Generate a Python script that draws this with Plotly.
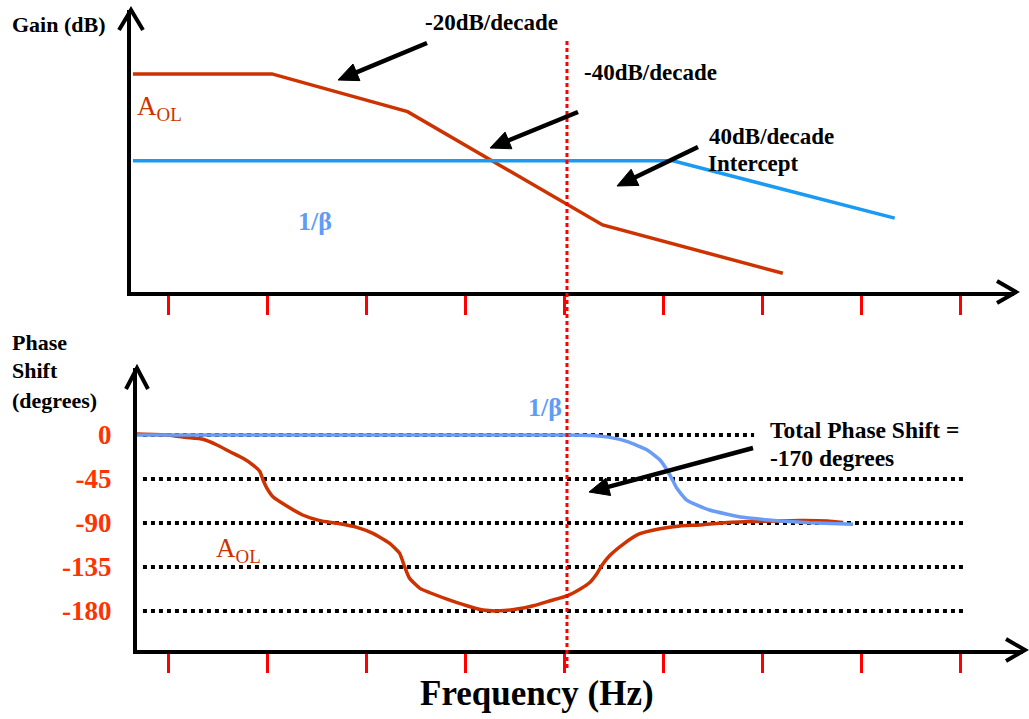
import math
import plotly.graph_objects as go

# ---------------- data ----------------
decades = [1, 2, 3, 4, 5, 6, 7, 8, 9]

gain_aol_x = [0.646, 2.05, 3.42, 5.39, 7.21]
gain_aol_db = [76.8, 76.8, 63.5, 23.6, 6.6]

gain_beta_x = [0.646, 6.10, 8.34]
gain_beta_db = [46.2, 46.2, 26.0]

phase_aol_x = [0.687, 1.0, 1.172, 1.354, 1.495, 1.626, 1.758, 1.859, 1.929, 1.96, 2.0, 2.06,
               2.2, 2.36, 2.535, 2.707, 2.909, 3.07, 3.24, 3.34, 3.39, 3.44, 3.545, 3.646,
               3.818, 4.02, 4.18, 4.35, 4.525, 4.69, 4.86, 5.03, 5.16, 5.26, 5.33, 5.38,
               5.46, 5.6, 5.76, 5.97, 6.17, 6.37, 6.65, 7.38, 7.66, 7.82]
phase_aol_deg = [1, 0, -2.4, -4.4, -10.2, -17.1, -23.8, -30.7, -37.5, -46, -54.5, -63.1,
                 -72.6, -81.8, -87.6, -90.3, -94.4, -100.6, -110.8, -121, -134.7, -146.6, -156.8, -161.3,
                 -167.8, -174.6, -179, -179.8, -178, -174.6, -169.5, -164.4, -157.6, -150.8, -142.2, -133.7,
                 -123.5, -111.5, -101.2, -95.9, -93, -92, -89.5, -87.5, -88, -89.5]

phase_beta_x = [0.687, 5.03, 5.29, 5.45, 5.64, 5.84, 5.97, 6.07, 6.14, 6.24, 6.47,
                6.81, 7.15, 7.48, 7.92]
phase_beta_deg = [0, 0, -0.5, -2.2, -6.8, -15.3, -25.6, -40.9, -54.5, -66.5, -76.7,
                  -84.2, -87.6, -89.7, -91.3]

phase_ticks = [0, -45, -90, -135, -180]
phase_tick_text = ["0", "-45", "-90", "-135", "-180"]
crossover_x = 5.03
ref_line_start = 0.747
ref_line_end = 9.07
zero_line_end = 6.92

# ---------------- styling helpers ----------------
W, H = 1029, 719
RED = "#CC3300"
BLUE_GAIN = "#1A9AF2"
BLUE_PHASE = "#6A9BF5"
BLUE_TXT = "#5E9CF7"
ORANGE = "#FF3300"
SERIF = "Liberation Serif"


def X(px):
    return px / W


def Y(py):
    return 1 - py / H


def dec(px):
    return (px - 168) / 99 + 1


fig = go.Figure()

# Gain panel
fig.add_trace(go.Scatter(x=gain_aol_x, y=gain_aol_db, mode="lines",
                         line=dict(color=RED, width=3.5), xaxis="x", yaxis="y", showlegend=False))
fig.add_trace(go.Scatter(x=gain_beta_x, y=gain_beta_db, mode="lines",
                         line=dict(color=BLUE_GAIN, width=3.5), xaxis="x", yaxis="y", showlegend=False))

# Phase panel
fig.add_trace(go.Scatter(x=phase_aol_x, y=phase_aol_deg, mode="lines",
                         line=dict(color=RED, width=3.5, shape="spline", smoothing=0.5),
                         xaxis="x2", yaxis="y2", showlegend=False))
fig.add_trace(go.Scatter(x=phase_beta_x, y=phase_beta_deg, mode="lines",
                         line=dict(color=BLUE_PHASE, width=3.5, shape="spline", smoothing=0.5),
                         xaxis="x2", yaxis="y2", showlegend=False))

shapes = []
# dotted reference lines in phase panel
for t in phase_ticks:
    x1 = zero_line_end if t == 0 else ref_line_end
    shapes.append(dict(type="line", xref="x2", yref="y2", x0=ref_line_start, x1=x1, y0=t, y1=t,
                       line=dict(color="black", width=4, dash="dot"), layer="below"))
# crossover vertical dotted line
shapes.append(dict(type="line", xref="x", yref="paper", x0=crossover_x, x1=crossover_x,
                   y0=Y(668), y1=Y(40), line=dict(color="#FF0000", width=3, dash="4px,3px")))


# axis arrow chevrons
def chevron(p1, p2, p3):
    return dict(type="path", xref="paper", yref="paper",
                path=f"M{X(p1[0])},{Y(p1[1])} L{X(p2[0])},{Y(p2[1])} L{X(p3[0])},{Y(p3[1])}",
                line=dict(color="black", width=4))


shapes.append(chevron((119, 30), (131, 10), (143, 30)))
shapes.append(chevron((997, 281), (1016, 292), (997, 303)))
shapes.append(chevron((126, 389), (137, 368), (148, 389)))
shapes.append(chevron((1006, 639), (1025, 650), (1006, 661)))


# pointer arrows (line + filled triangular head)
def pointer(head, tail, head_len=20, head_w=9):
    dx, dy = head[0] - tail[0], head[1] - tail[1]
    L = math.hypot(dx, dy)
    ux, uy = dx / L, dy / L
    bx, by = head[0] - ux * head_len, head[1] - uy * head_len
    nx, ny = -uy, ux
    shapes.append(dict(type="line", xref="paper", yref="paper",
                       x0=X(tail[0]), y0=Y(tail[1]), x1=X(bx + ux * 2), y1=Y(by + uy * 2),
                       line=dict(color="black", width=4.5)))
    p1 = (bx + nx * head_w, by + ny * head_w)
    p2 = (bx - nx * head_w, by - ny * head_w)
    shapes.append(dict(type="path", xref="paper", yref="paper",
                       path=f"M{X(head[0])},{Y(head[1])} L{X(p1[0])},{Y(p1[1])} L{X(p2[0])},{Y(p2[1])} Z",
                       fillcolor="black", line=dict(color="black", width=1)))


pointer((338, 80), (427, 43))
pointer((490, 148), (578, 112))
pointer((617, 186), (698, 147))
pointer((589, 492), (753, 448))

annotations = []


def text(px, py, s, size=23, color="black", xanchor="left"):
    annotations.append(dict(x=X(px), y=Y(py), xref="paper", yref="paper", text=s, showarrow=False,
                            xanchor=xanchor, yanchor="middle",
                            font=dict(family=SERIF, size=size, color=color)))


text(10, 24, "<b>Gain (dB)</b>", size=22)
text(423, 22, "<b>-20dB/decade</b>")
text(582, 72, "<b>-40dB/decade</b>")
text(707, 136, "<b>40dB/decade</b>")
text(706, 163, "<b>Intercept</b>")
text(135, 108, "A<sub>OL</sub>", size=27, color=RED)
text(296, 221, "<b>1/β</b>", size=26, color=BLUE_TXT)
text(10, 342, "<b>Phase</b>", size=22)
text(10, 370, "<b>Shift</b>", size=22)
text(10, 400, "<b>(degrees)</b>", size=22)
text(526, 407, "<b>1/β</b>", size=26, color=BLUE_TXT)
text(214, 550, "A<sub>OL</sub>", size=27, color=RED)
text(768, 430, "<b>Total Phase Shift =</b>", size=23.5)
text(768, 458, "<b>-170 degrees</b>", size=23.5)
text(537, 693, "<b>Frequency (Hz)</b>", size=35, xanchor="center")

fig.update_layout(
    width=W, height=H,
    margin=dict(l=0, r=0, t=0, b=0),
    paper_bgcolor="white", plot_bgcolor="white",
    showlegend=False,
    shapes=shapes,
    annotations=annotations,
    xaxis=dict(domain=[X(131), X(1014)], range=[dec(131), dec(1014)], anchor="y",
               showline=True, linecolor="black", linewidth=4,
               tickvals=decades, ticks="outside", ticklen=19, tickwidth=3, tickcolor="#FF0000",
               showticklabels=False, showgrid=False, zeroline=False),
    yaxis=dict(domain=[Y(292), Y(10)], range=[0, (292 - 10) / 2.84], anchor="x",
               showline=True, linecolor="black", linewidth=4, ticks="",
               showticklabels=False, showgrid=False, zeroline=False),
    xaxis2=dict(domain=[X(137), X(1023)], range=[dec(137), dec(1023)], anchor="y2",
                showline=True, linecolor="black", linewidth=4,
                tickvals=decades, ticks="outside", ticklen=19, tickwidth=3, tickcolor="#FF0000",
                showticklabels=False, showgrid=False, zeroline=False),
    yaxis2=dict(domain=[Y(650), Y(368)], range=[-(650 - 435) / 0.978, (435 - 368) / 0.978], anchor="x2",
                showline=True, linecolor="black", linewidth=4, ticks="",
                tickvals=phase_ticks, ticktext=phase_tick_text,
                tickfont=dict(family=SERIF, size=27, color=ORANGE, weight="bold"),
                ticklabelstandoff=16,
                showgrid=False, zeroline=False),
)

fig.write_html("out.html")
